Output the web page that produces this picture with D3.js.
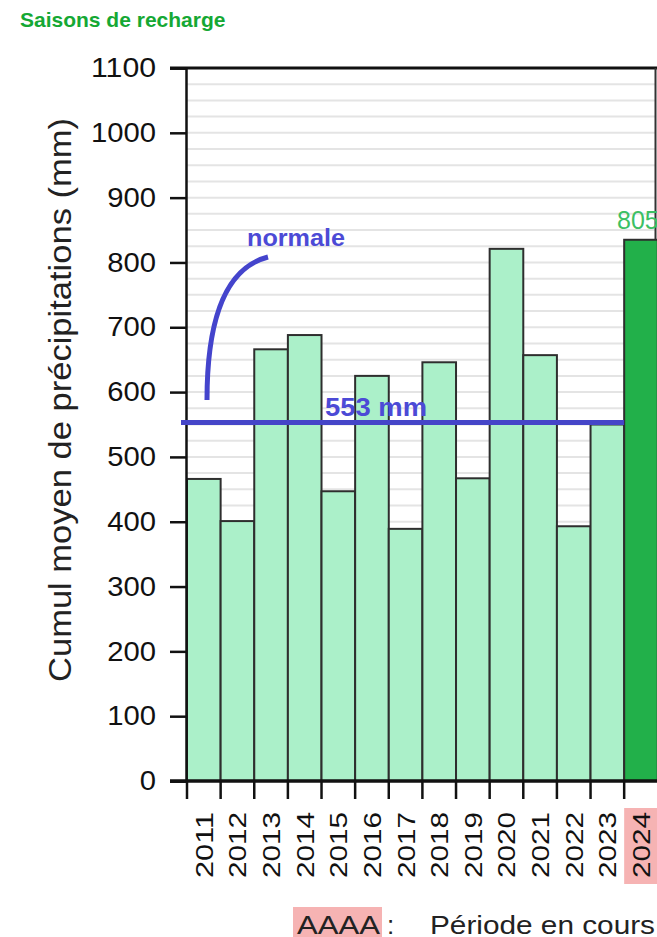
<!DOCTYPE html>
<html>
<head>
<meta charset="utf-8">
<script src="https://cdn.jsdelivr.net/npm/d3@7"></script>
<style>
  body { margin: 0; background: #fff; }
  text { font-family: "Liberation Sans", Arial, sans-serif; }
</style>
</head>
<body>
<svg id="chart" width="657" height="937"></svg>
<script>
// données
const years = ["2011", "2012", "2013", "2014", "2015", "2016", "2017",
  "2018", "2019", "2020", "2021", "2022", "2023", "2024"];
const cumul = [466, 401, 666, 688, 447, 625, 389, 646, 467, 821, 657, 393, 550, 835];
const currentYear = "2024";
const currentLabel = "805";
const normale = 553;
const yTicks = [0, 100, 200, 300, 400, 500, 600, 700, 800, 900, 1000, 1100];

const svg = d3.select("#chart");

const x = d3.scaleBand().domain(years).range([187, 657.8]).padding(0);
const y = d3.scaleLinear().domain([0, 1100]).range([781, 68]);

// titre
svg.append("text")
  .attr("x", 20).attr("y", 27)
  .attr("font-size", "21px").attr("font-weight", "bold")
  .attr("fill", "#15a834")
  .text("Saisons de recharge");

// grille fine tous les 25 mm
const gridLayer = svg.append("g").attr("class", "grid");
gridLayer.selectAll("line")
  .data(d3.range(25, 1100, 25))
  .join("line")
  .attr("x1", 187).attr("x2", 655)
  .attr("y1", (d) => y(d)).attr("y2", (d) => y(d))
  .attr("stroke", "#e4e4e4")
  .attr("stroke-width", 2);

// barres
svg.append("g").attr("class", "bars")
  .selectAll("rect")
  .data(years.map((yr, i) => ({ yr, v: cumul[i] })))
  .join("rect")
  .attr("x", (d) => x(d.yr))
  .attr("y", (d) => y(d.v))
  .attr("width", x.bandwidth())
  .attr("height", (d) => y(0) - y(d.v))
  .attr("fill", (d) => (d.yr === currentYear ? "#22b04a" : "#abf0c9"))
  .attr("stroke", "#2e2e2e")
  .attr("stroke-width", 2);

// cadre haut + droite
svg.append("line")
  .attr("x1", 170).attr("x2", 657).attr("y1", 68).attr("y2", 68)
  .attr("stroke", "#111").attr("stroke-width", 3);
svg.append("line")
  .attr("x1", 655.5).attr("x2", 655.5).attr("y1", 68).attr("y2", y(cumul[cumul.length - 1]))
  .attr("stroke", "#333").attr("stroke-width", 2);

// axe Y
const yAxis = svg.append("g")
  .attr("transform", "translate(186,0)")
  .call(d3.axisLeft(y).tickValues(yTicks).tickSize(16).tickPadding(14).tickFormat(d3.format("d")));
yAxis.select(".domain").attr("stroke", "#111").attr("stroke-width", 2.5);
yAxis.selectAll(".tick line").attr("stroke", "#111").attr("stroke-width", 2.5);
yAxis.selectAll(".tick text")
  .attr("font-size", "27px").attr("fill", "#111")
  .attr("font-family", "Liberation Sans, Arial, sans-serif")
  .attr("textLength", (d) => String(d).length * 16.25)
  .attr("lengthAdjust", "spacingAndGlyphs");

// axe X
svg.append("line")
  .attr("x1", 170).attr("x2", 657).attr("y1", 781).attr("y2", 781)
  .attr("stroke", "#111").attr("stroke-width", 3.5);
svg.append("g").attr("class", "xticks")
  .selectAll("line")
  .data(years)
  .join("line")
  .attr("x1", (d) => x(d)).attr("x2", (d) => x(d))
  .attr("y1", 781).attr("y2", 799)
  .attr("stroke", "#111").attr("stroke-width", 2.5);

// fond rose pour l'année en cours
svg.append("rect")
  .attr("x", x(currentYear)).attr("y", 808)
  .attr("width", x.bandwidth()).attr("height", 76)
  .attr("fill", "#f6b3b3");

svg.append("g").attr("class", "xlabels")
  .selectAll("text")
  .data(years)
  .join("text")
  .attr("transform", (d) => `translate(${x(d) + x.bandwidth() / 2 + 9},812) rotate(-90)`)
  .attr("text-anchor", "end")
  .attr("font-size", "24px")
  .attr("fill", "#111")
  .attr("textLength", 66)
  .attr("lengthAdjust", "spacingAndGlyphs")
  .text((d) => d);

// titre axe Y
svg.append("text")
  .attr("transform", "translate(71,400) rotate(-90)")
  .attr("text-anchor", "middle")
  .attr("font-size", "31px")
  .attr("fill", "#222")
  .attr("textLength", 564)
  .attr("lengthAdjust", "spacingAndGlyphs")
  .text("Cumul moyen de précipitations (mm)");

// ligne de la normale
svg.append("line")
  .attr("x1", 181).attr("x2", x(currentYear))
  .attr("y1", y(normale)).attr("y2", y(normale))
  .attr("stroke", "#4545c8").attr("stroke-width", 5);

svg.append("text")
  .attr("x", 325).attr("y", 416)
  .attr("font-size", "26px").attr("font-weight", "bold")
  .attr("fill", "#4c4ad6")
  .attr("textLength", 102)
  .attr("lengthAdjust", "spacingAndGlyphs")
  .text(`${normale} mm`);

// flèche courbe "normale"
svg.append("path")
  .attr("d", "M207,400 C207,320 225,268 268,257")
  .attr("fill", "none")
  .attr("stroke", "#4444cc").attr("stroke-width", 5);

svg.append("text")
  .attr("x", 247).attr("y", 246)
  .attr("font-size", "24px").attr("font-weight", "bold")
  .attr("fill", "#4c4ad6")
  .attr("textLength", 98)
  .attr("lengthAdjust", "spacingAndGlyphs")
  .text("normale");

// valeur de l'année en cours
svg.append("text")
  .attr("x", 617).attr("y", 229)
  .attr("font-size", "25px")
  .attr("fill", "#3cc064")
  .text(currentLabel);

// légende
svg.append("rect")
  .attr("x", 293).attr("y", 907).attr("width", 89).attr("height", 30)
  .attr("fill", "#f6b3b3");
svg.append("text")
  .attr("x", 297).attr("y", 934)
  .attr("font-size", "26px").attr("fill", "#222")
  .attr("textLength", 83)
  .attr("lengthAdjust", "spacingAndGlyphs")
  .text("AAAA");
svg.append("text")
  .attr("x", 387).attr("y", 934)
  .attr("font-size", "26px").attr("fill", "#222")
  .text(":");
svg.append("text")
  .attr("x", 430).attr("y", 934)
  .attr("font-size", "25px").attr("fill", "#222")
  .attr("textLength", 225)
  .attr("lengthAdjust", "spacingAndGlyphs")
  .text("Période en cours");
</script>
</body>
</html>
